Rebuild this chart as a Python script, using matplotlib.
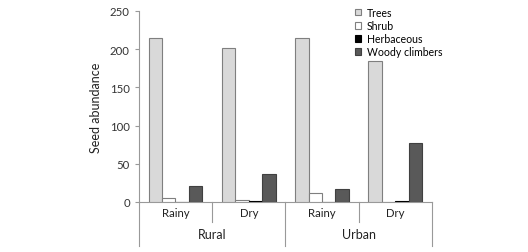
import matplotlib.pyplot as plt
import matplotlib.transforms as mtransforms
from matplotlib.patches import Patch
import numpy as np

plt.rcParams['font.family'] = ['Lato', 'DejaVu Sans']

seasons = ["Rainy", "Dry", "Rainy", "Dry"]
sites = ["Rural", "Urban"]
series_names = ["Trees", "Shrub", "Herbaceous", "Woody climbers"]
trees = [214, 202, 214, 185]
shrub = [5, 2, 12, 0.5]
herbaceous = [0, 0.6, 0, 1.5]
woody = [21, 37, 17, 77]
colors = ["#d9d9d9", "#ffffff", "#000000", "#595959"]
edges = ["#7f7f7f", "#7f7f7f", "#000000", "#404040"]

fig = plt.figure(figsize=(5.28, 2.53), dpi=100)
ax = fig.add_axes([0.263, 0.198, 0.555, 0.755])

x = np.arange(len(seasons))
w = 0.183
all_vals = [trees, shrub, herbaceous, woody]
for k, vals in enumerate(all_vals):
    ax.bar(x + (k - 1.5) * w, vals, w, color=colors[k], edgecolor=edges[k],
           linewidth=0.8, label=series_names[k], zorder=3)

ax.set_xlim(-0.5, len(seasons) - 0.5)
ax.set_ylim(0, 250)
ax.set_yticks(range(0, 251, 50))
ax.set_ylabel("Seed abundance", fontsize=9, color="#222222", labelpad=6)
ax.tick_params(axis='y', labelsize=8.2, colors="#333333", length=3, width=0.8)
ax.tick_params(axis='y', color="#999999")
ax.set_xticks(x)
ax.set_xticklabels(seasons, fontsize=8.2, color="#222222")
ax.tick_params(axis='x', length=0, pad=4)

for s in ["top", "right"]:
    ax.spines[s].set_visible(False)
for s in ["left", "bottom"]:
    ax.spines[s].set_color("#999999")
    ax.spines[s].set_linewidth(0.8)

# category separators below the axis
trans = mtransforms.blended_transform_factory(ax.transData, ax.transAxes)
for i in range(len(seasons) + 1):
    b = i - 0.5
    depth = -0.23 if i % 2 == 0 else -0.105
    ax.plot([b, b], [0, depth], transform=trans, color="#999999",
            linewidth=0.8, clip_on=False)

for g, name in enumerate(sites):
    ax.text(2 * g + 0.5, -0.17, name, transform=trans, ha="center",
            va="center", fontsize=9, color="#222222")

handles = [Patch(facecolor=colors[k], edgecolor=edges[k], linewidth=0.8)
           for k in range(4)]
fig.legend(handles, series_names, loc="upper left",
           bbox_to_anchor=(0.665, 0.985), frameon=False, fontsize=7.6,
           handlelength=0.55, handleheight=0.55, handletextpad=0.55,
           labelspacing=0.2, borderaxespad=0)

fig.savefig("out.png", dpi=100)
